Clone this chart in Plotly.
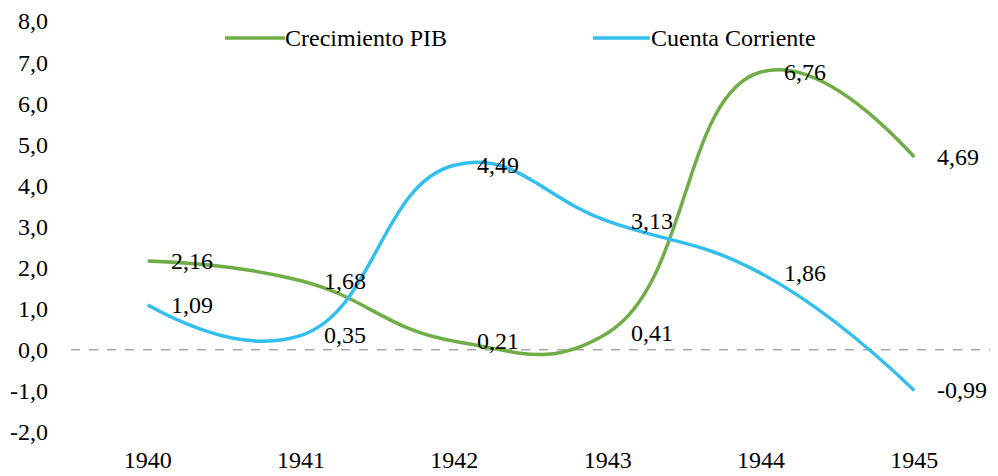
import plotly.graph_objects as go

years = ["1940", "1941", "1942", "1943", "1944", "1945"]
pib = [2.16, 1.68, 0.21, 0.41, 6.76, 4.69]
cuenta = [1.09, 0.35, 4.49, 3.13, 1.86, -0.99]
y_ticks = [-2, -1, 0, 1, 2, 3, 4, 5, 6, 7, 8]
series_names = ["Crecimiento PIB", "Cuenta Corriente"]

GREEN = "#70AD47"
BLUE = "#33BEEE"
FONT = "Liberation Serif"
FS = 24

# The page body has an 8px default margin, so the figure is drawn 8px in.
OFF = 8
W, H = 998 - OFF, 476 - OFF
# plot area in screen pixels: x 71..991, y 21..432
L, R, T, B = 71 - OFF, 998 - 991, 21 - OFF, 476 - 432
PW, PH = W - L - R, H - T - B


def fmt(v, nd=2):
    return f"{v:.{nd}f}".replace(".", ",")


def px(xs):
    return (xs - OFF - L) / PW


def py(ys):
    return (H - B - (ys - OFF)) / PH


fig = go.Figure()
colors = [GREEN, BLUE]
for name, vals, col in zip(series_names, (pib, cuenta), colors):
    fig.add_trace(go.Scatter(x=years, y=vals, mode="lines", name=name, showlegend=False,
                             line=dict(color=col, width=3.5, shape="spline", smoothing=1.3)))

# zero dashed line
fig.add_shape(type="line", xref="paper", yref="y", x0=0, x1=1, y0=0, y1=0,
              line=dict(color="#A6A6A6", width=1.5, dash="dash"), layer="below")

# data labels
for vals in (pib, cuenta):
    for i, v in enumerate(vals):
        fig.add_annotation(x=i, y=v, xref="x", yref="y", text=fmt(v), showarrow=False,
                           xanchor="left", yanchor="middle", xshift=21,
                           font=dict(family=FONT, size=FS, color="#000000"))

# legend (manual, to match long swatches)
legend_spec = [(225, 285, 283), (593, 650, 649)]
for (s0, s1, tx), name, col in zip(legend_spec, series_names, colors):
    fig.add_shape(type="line", xref="paper", yref="paper", x0=px(s0), x1=px(s1),
                  y0=py(38), y1=py(38), line=dict(color=col, width=3.5))
    fig.add_annotation(xref="paper", yref="paper", x=px(tx), y=py(38), text=name,
                       showarrow=False, xanchor="left", yanchor="middle",
                       font=dict(family=FONT, size=FS, color="#000000"))

fig.update_layout(
    width=W, height=H,
    margin=dict(l=L, r=R, t=T, b=B),
    paper_bgcolor="white", plot_bgcolor="white",
    font=dict(family=FONT, size=FS, color="#000000"),
    showlegend=False,
)
fig.update_xaxes(type="category", range=[-0.5, 5.5], showgrid=False, zeroline=False,
                 showline=False, ticks="", ticklabelstandoff=11, automargin=False)
fig.update_yaxes(range=[-2, 8], tickvals=y_ticks, ticktext=[fmt(v, 1) for v in y_ticks],
                 showgrid=False, zeroline=False, showline=False, ticks="",
                 ticklabelstandoff=22, ticklabeloverflow="allow", automargin=False)

fig.write_html("out.html")
